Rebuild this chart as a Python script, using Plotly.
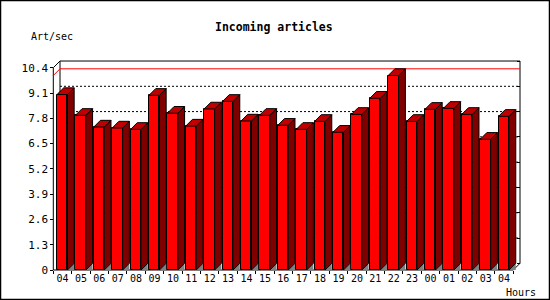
import plotly.graph_objects as go

# ---------------- data ----------------
hours = ["04", "05", "06", "07", "08", "09", "10", "11", "12", "13", "14", "15",
         "16", "17", "18", "19", "20", "21", "22", "23", "00", "01", "02", "03", "04"]
rate = [9.02, 7.95, 7.35, 7.30, 7.23, 8.98, 8.06, 7.40, 8.28, 8.67, 7.66, 7.95,
        7.44, 7.23, 7.64, 7.08, 8.00, 8.83, 10.0, 7.64, 8.26, 8.31, 8.00, 6.72, 7.90]
ytick_vals = [0, 1.3, 2.6, 3.9, 5.2, 6.5, 7.8, 9.1, 10.4]
ytick_text = ["0", "1.3", "2.6", "3.9", "5.2", "6.5", "7.8", "9.1", "10.4"]

# ---------------- geometry ----------------
W, H = 550, 300
ML, MR, MT, MB = 48, 25, 56, 25
PW, PH = W - ML - MR, H - MT - MB
SX, SY = 18.4, 19.45          # px per unit
X0PX, Y0PX = 53.3, 270.0      # pixel position of x=0 / y=0 (front)
xlo = -(X0PX - ML) / SX
xhi = xlo + PW / SX
ylo = -((H - MB) - Y0PX) / SY
yhi = ylo + PH / SY

n = len(rate)
ymax_axis = ytick_vals[-1]
dx = 6.7 / SX                 # depth offset in x units
dy = 6.7 / SY                 # depth offset in y units
XB = n + dx                   # back right x
YT = ymax_axis + dy           # back top y
BL, BR = 0.2, 0.77            # bar front left/right within category


def px_to_paper_x(px):
    return (px - ML) / PW


def px_to_paper_y(py):
    return ((H - MB) - py) / PH


fig = go.Figure()

# floor shadows
fx, fy = [], []
for i in range(n):
    r = i + BR
    fx += [r, r + dx, r + dx, r, None]
    fy += [0, dy, 0, 0, None]
fig.add_trace(go.Scatter(x=fx, y=fy, mode="lines", fill="toself",
                         fillcolor="#808080", line=dict(width=0, color="#808080"),
                         hoverinfo="skip", showlegend=False))

# front faces
fig.add_trace(go.Bar(x=[i + (BL + BR) / 2 for i in range(n)], y=rate,
                     width=BR - BL, base=0,
                     marker=dict(color="#FF0000", line=dict(color="black", width=1)),
                     hoverinfo="skip", showlegend=False))

# sides
sx, sy = [], []
for i, v in enumerate(rate):
    r = i + BR
    sx += [r, r, r + dx, r + dx, r, None]
    sy += [0, v, v + dy, dy, 0, None]
fig.add_trace(go.Scatter(x=sx, y=sy, mode="lines", fill="toself",
                         fillcolor="#800000", line=dict(width=1, color="black"),
                         hoverinfo="skip", showlegend=False))

# tops
tx, ty = [], []
for i, v in enumerate(rate):
    l, r = i + BL, i + BR
    tx += [l, l + dx, r + dx, r, l, None]
    ty += [v, v + dy, v + dy, v, v, None]
fig.add_trace(go.Scatter(x=tx, y=ty, mode="lines", fill="toself",
                         fillcolor="#C00000", line=dict(width=1, color="black"),
                         hoverinfo="skip", showlegend=False))

shapes = []


def seg(x0, y0, x1, y1, color="black", dash=None, layer="below"):
    ln = dict(color=color, width=1)
    if dash:
        ln["dash"] = dash
    shapes.append(dict(type="line", xref="x", yref="y", x0=x0, y0=y0, x1=x1, y1=y1,
                       line=ln, layer=layer))


# back-plane dotted grid
for v in ytick_vals[1:-1]:
    seg(dx, v + dy, XB, v + dy, dash="2px,2px")

# back frame
seg(dx, YT, XB, YT)
seg(XB, YT, XB, dy)
seg(dx, YT, dx, dy)
seg(n, 0, XB, dy)
# front axes
seg(0, 0, 0, ymax_axis)
seg(0, ymax_axis, dx, YT)
seg(0, 0, n, 0)
# max line
mx = max(rate)
seg(0, mx, dx, mx + dy, color="#FF0000")
seg(dx, mx + dy, XB, mx + dy, color="#FF0000")

# outer border
shapes.append(dict(type="rect", xref="paper", yref="paper",
                   x0=px_to_paper_x(0.5), x1=px_to_paper_x(549.5),
                   y0=px_to_paper_y(299.5), y1=px_to_paper_y(0.5),
                   line=dict(color="black", width=1.5), layer="above"))

mono = "DejaVu Sans Mono"
annotations = [
    dict(text="<b>Incoming articles</b>", xref="paper", yref="paper",
         x=px_to_paper_x(274), y=px_to_paper_y(27), xanchor="center", yanchor="middle",
         showarrow=False, font=dict(family=mono, size=11.5, color="black")),
    dict(text="Art/sec", xref="paper", yref="paper",
         x=px_to_paper_x(29), y=px_to_paper_y(37), xanchor="left", yanchor="middle",
         showarrow=False, font=dict(family=mono, size=10, color="black")),
    dict(text="Hours", xref="paper", yref="paper",
         x=px_to_paper_x(504), y=px_to_paper_y(292.5), xanchor="left", yanchor="middle",
         showarrow=False, font=dict(family=mono, size=10, color="black")),
]

fig.update_layout(
    width=W, height=H,
    margin=dict(l=ML, r=MR, t=MT, b=MB, pad=0),
    paper_bgcolor="white", plot_bgcolor="white",
    showlegend=False,
    shapes=shapes, annotations=annotations,
    bargap=0,
    xaxis=dict(range=[xlo, xhi], anchor="free", position=px_to_paper_y(Y0PX),
               showgrid=False, zeroline=False, showline=False,
               tickmode="array", tickvals=[i + 0.5 for i in range(n)], ticktext=hours,
               ticks="", tickfont=dict(family=mono, size=10, color="black"),
               ticklabelstandoff=1,
               minor=dict(tickmode="array", tickvals=list(range(n + 1)), ticks="outside",
                          ticklen=3, tickcolor="black", tickwidth=1, showgrid=False)),
    yaxis=dict(range=[ylo, yhi], anchor="free", position=px_to_paper_x(X0PX),
               showgrid=False, zeroline=False, showline=False,
               tickmode="array", tickvals=ytick_vals, ticktext=ytick_text,
               ticks="outside", ticklen=3, tickcolor="black", tickwidth=1,
               tickfont=dict(family=mono, size=11, color="black")),
    yaxis2=dict(range=[ylo - dy, yhi - dy], overlaying="y", side="right",
                anchor="free", position=px_to_paper_x(X0PX + XB * SX),
                showgrid=False, zeroline=False, showline=False,
                tickmode="array", tickvals=ytick_vals, showticklabels=False,
                ticks="inside", ticklen=3, tickcolor="black", tickwidth=1),
)

# dummy trace so yaxis2 renders
fig.add_trace(go.Scatter(x=[None], y=[None], yaxis="y2", showlegend=False, hoverinfo="skip"))

fig.write_html("out.html")
